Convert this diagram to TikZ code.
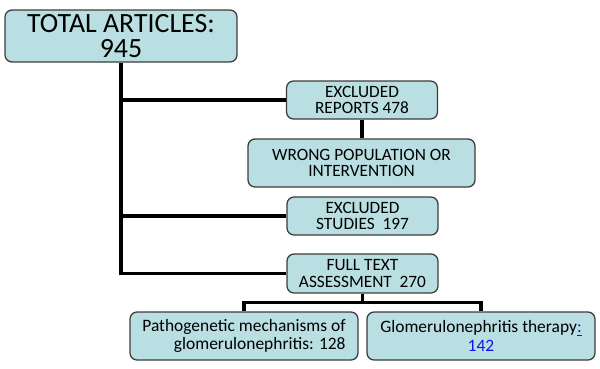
\documentclass[tikz,border=0pt]{standalone}
\usepackage{fontspec}
\setmainfont{Carlito}
\usepackage{xcolor}
\definecolor{boxfill}{RGB}{185,223,226}
\definecolor{boxline}{RGB}{60,60,60}
\definecolor{linkblue}{RGB}{20,20,235}
\usetikzlibrary{positioning}

\tikzset{
  flowbox/.style={draw=boxline, fill=boxfill, line width=0.9pt, rounded corners=5pt,
    inner sep=1pt, align=center, font=\fontsize{12.3}{11.6}\selectfont},
  link/.style={line width=2.2pt, black}
}

\begin{document}
\begin{tikzpicture}[x=0.025cm, y=-0.025cm]
    \useasboundingbox (0,0) rectangle (600,369);

    % Top box
    \node[flowbox, minimum width=232*0.025cm, minimum height=52*0.025cm,
          font=\fontsize{19.8}{17.5}\selectfont] (total) at (121,36) {TOTAL ARTICLES:\\945};

    % Excluded branches
    \node[flowbox, minimum width=151*0.025cm, minimum height=38*0.025cm] (reports) at (362,100) {EXCLUDED\\REPORTS 478};
    \node[flowbox, minimum width=227*0.025cm, minimum height=48*0.025cm] (wrong) at (361.5,163) {WRONG POPULATION OR\\INTERVENTION};
    \node[flowbox, minimum width=151*0.025cm, minimum height=38*0.025cm] (studies) at (362.5,216) {EXCLUDED\\STUDIES\ \ 197};
    \node[flowbox, minimum width=151*0.025cm, minimum height=39*0.025cm] (fulltext) at (362.5,273.5) {FULL TEXT\\ASSESSMENT\ \ 270};

    % Final groups
    \node[flowbox, minimum width=228*0.025cm, minimum height=48*0.025cm, align=right,
          font=\fontsize{12.4}{13.2}\selectfont] (patho) at (244,336) {Pathogenetic mechanisms of\\glomerulonephritis: 128};
    \node[flowbox, minimum width=228*0.025cm, minimum height=48*0.025cm,
          font=\fontsize{12.4}{13.2}\selectfont] (therapy) at (481,336) {Glomerulonephritis therapy{\color{linkblue}\underline{:}}\\{\color{linkblue}142}};

    % Connectors
    \draw[link] (total.south) -- (total.south |- fulltext.west) -- (fulltext.west);
    \draw[link] (total.south |- reports.west) -- (reports.west);
    \draw[link] (total.south |- studies.west) -- (studies.west);
    \draw[link] (reports.south) -- (reports.south |- wrong.north);
    \draw[link] (fulltext.south) -- ++(0,9) -| (patho.north);
    \draw[link] (fulltext.south) ++(0,9) -| (therapy.north);
\end{tikzpicture}
\end{document}
